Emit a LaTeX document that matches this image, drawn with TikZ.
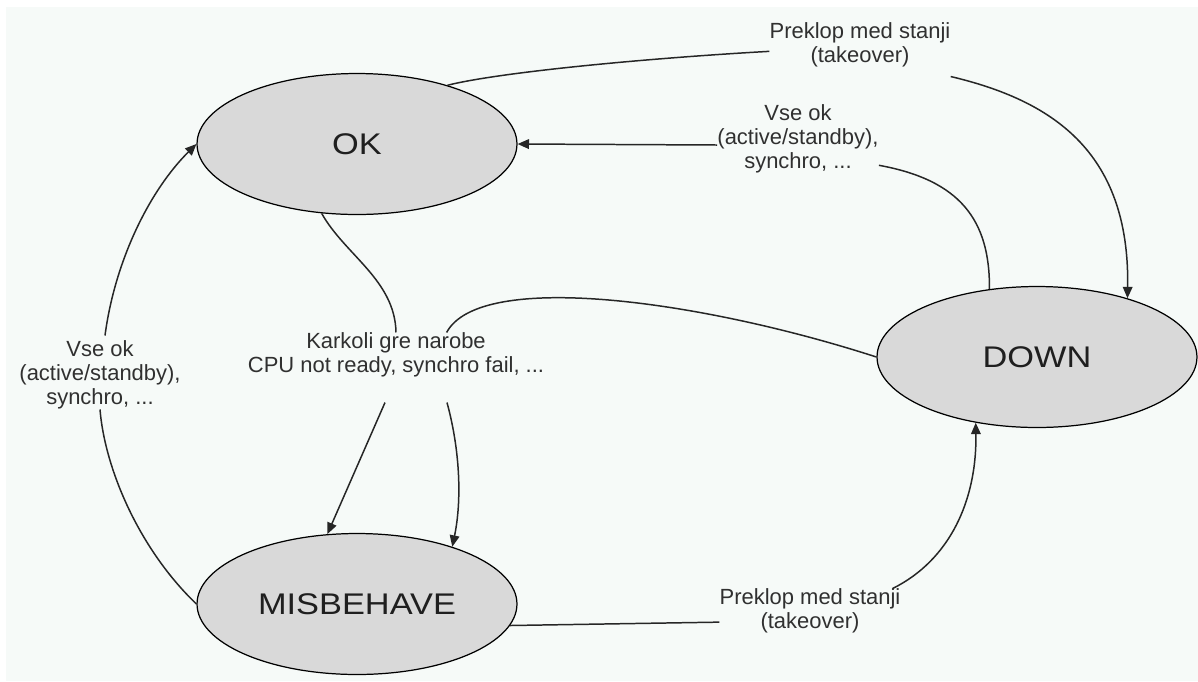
\documentclass[tikz,border=0pt]{standalone}
\usepackage{fontspec}
\setmainfont{Liberation Sans}
\newfontfamily\statefont{Liberation Sans}[FakeStretch=1.15]
\usetikzlibrary{arrows.meta,shapes.geometric}
\definecolor{bgpale}{RGB}{246,250,248}
\definecolor{stategray}{RGB}{217,217,217}
\definecolor{inkgray}{RGB}{48,48,48}

\begin{document}
\begin{tikzpicture}[
  x=0.02cm, y=-0.02cm,
  state/.style={ellipse, draw=black, line width=0.7pt, fill=stategray, inner sep=0pt, minimum width=6.4cm, minimum height=2.82cm, font=\statefont\fontsize{17}{20}\selectfont, text=black!88},
  lbl/.style={align=center, inner sep=0pt, font=\fontsize{12.5}{13.6}\selectfont, text=inkgray},
  seg/.style={line width=0.85pt, draw=black!85},
  trans/.style={seg, -{Triangle[length=6.5pt, width=5.5pt]}},
]
  \useasboundingbox (0,0) rectangle (1198,681);
  \fill[white] (0,0) rectangle (1198,681);
  \fill[bgpale] (6,7) rectangle (1198,681);

  \node[state] (ok) at (357,144) {OK};
  \node[state] (down) at (1037,357) {DOWN};
  \node[state] (misbehave) at (357,604) {MISBEHAVE};

  \node[lbl] (takeTop) at (860,45) {Preklop med stanji\\(takeover)};
  \node[lbl] (vseR) at (798,139) {Vse ok\\(active/standby),\\synchro, ...};
  \node[lbl] (karkoli) at (396,355) {Karkoli gre narobe\\CPU not ready, synchro fail, ...};
  \node[lbl] (vseL) at (100,375) {Vse ok\\(active/standby),\\synchro, ...};
  \node[lbl] (takeBot) at (810,611) {Preklop med stanji\\(takeover)};

  \draw[seg] (ok.33) .. controls (500,72) and (650,58) .. (takeTop.184);
  \draw[trans] ([yshift=-0.18cm]takeTop.south east) .. controls (1050,100) and (1130,150) .. (down.33);

  \draw[seg] (down.125) .. controls (990,220) and (960,180) .. (vseR.-18);
  \draw[trans] ([yshift=-0.12cm]vseR.west) -- (ok.east);

  \draw[seg] (ok.243) .. controls (345,255) and (395,280) .. (karkoli.north);
  \draw[seg] (down.west) .. controls (700,300) and (480,270) .. (karkoli.24);
  \draw[trans] ([xshift=-0.22cm, yshift=-0.5cm]karkoli.south) -- (misbehave.113);
  \draw[trans] ([xshift=1.02cm, yshift=-0.5cm]karkoli.south) .. controls (460,450) and (462,500) .. (misbehave.31);

  \draw[seg] (misbehave.west) .. controls (140,550) and (105,470) .. (vseL.south);
  \draw[trans] ([xshift=0.1cm, yshift=0.1cm]vseL.north) .. controls (115,260) and (150,190) .. (ok.west);

  \draw[seg] (misbehave.352) -- (takeBot.187);
  \draw[trans] ([xshift=-0.16cm]takeBot.north east) .. controls (950,560) and (977,500) .. (down.227);
\end{tikzpicture}
\end{document}
